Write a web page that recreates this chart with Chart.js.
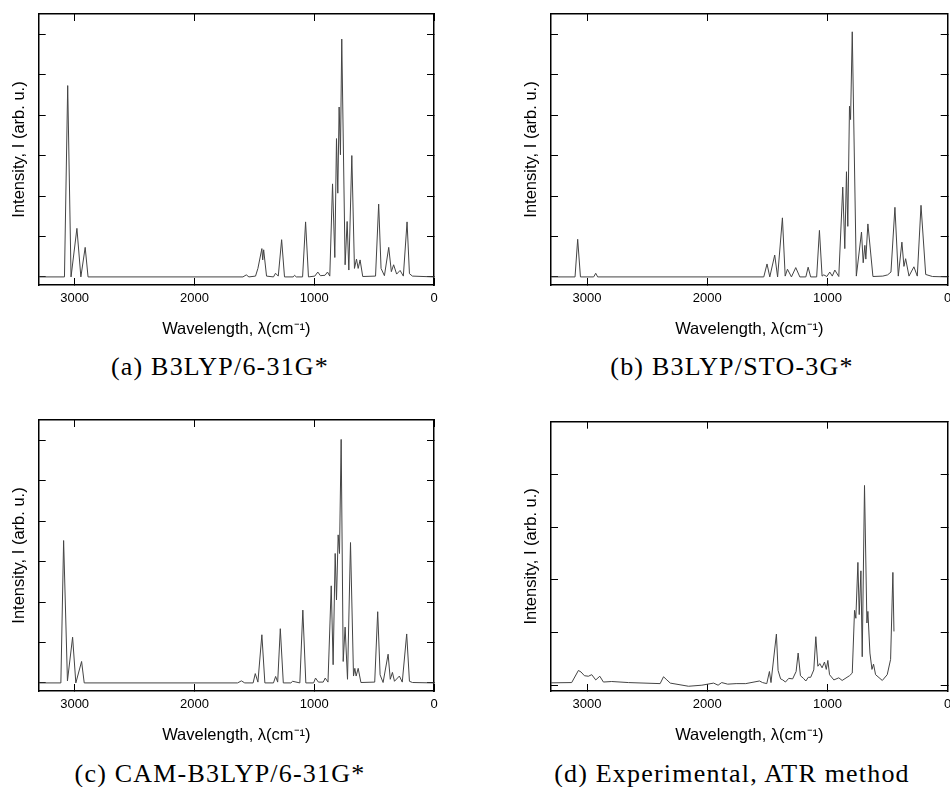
<!DOCTYPE html>
<html>
<head>
<meta charset="utf-8">
<script src="https://cdn.jsdelivr.net/npm/chart.js@4.4.1/dist/chart.umd.min.js"></script>
<style>
  html, body { margin: 0; padding: 0; background: #fff; width: 950px; height: 787px; overflow: hidden; }
  .panel { position: absolute; }
  .caption { position: absolute; width: 440px; text-align: center; font-family: "Liberation Serif", "DejaVu Serif", serif; font-size: 26px; letter-spacing: 1.2px; color: #000; line-height: 28px; }
</style>
</head>
<body>
<canvas id="chart-a" class="panel" width="475" height="345" style="left:0px;top:0px"></canvas>
<canvas id="chart-b" class="panel" width="475" height="345" style="left:512px;top:0px"></canvas>
<canvas id="chart-c" class="panel" width="475" height="345" style="left:0px;top:406px"></canvas>
<canvas id="chart-d" class="panel" width="475" height="345" style="left:512px;top:406px"></canvas>
<div class="caption" style="left:0px;top:353px">(a) B3LYP/6-31G*</div>
<div class="caption" style="left:512px;top:353px">(b) B3LYP/STO-3G*</div>
<div class="caption" style="left:0px;top:760px">(c) CAM-B3LYP/6-31G*</div>
<div class="caption" style="left:512px;top:760px">(d) Experimental, ATR method</div>
<script>
// wavenumbers (cm-1) and intensities (arb. u.)

// (a) B3LYP/6-31G*
const waveA = [3300, 3085, 3058, 3030, 2981, 2948, 2912, 2888,
    1595, 1567, 1545, 1490, 1470, 1437, 1430, 1422, 1398, 1340,
    1323, 1300, 1272, 1248, 1175, 1164, 1150, 1097, 1072, 1048,
    995, 970, 948, 910, 889, 870, 847, 828, 814, 803,
    792, 781, 770, 742, 725, 711, 686, 664, 647, 633,
    617, 595, 488, 462, 442, 414, 378, 356, 337, 312,
    283, 256, 225, 205, 180, 0];
const intA = [0, 0, 4.73, 0, 1.20, 0, 0.73, 0,
    0, 0.05, 0, 0.02, 0.21, 0.70, 0.42, 0.67, 0.02, 0,
    0.09, 0.02, 0.92, 0, 0, 0.04, 0, 0, 1.36, 0,
    0.02, 0.12, 0.03, 0.04, 0.12, 0.02, 2.30, 0.48, 3.42, 2.07,
    4.20, 3.02, 5.88, 0.30, 1.37, 0.17, 3.00, 0.21, 0.44, 0.21,
    0.42, 0.01, 0.02, 1.80, 0.21, 0.03, 0.73, 0.13, 0.30, 0.07,
    0.16, 0.02, 1.36, 0.08, 0.02, 0];

// (b) B3LYP/STO-3G*
const waveB = [3300, 3100, 3078, 3055, 2945, 2928, 2912, 1530,
    1503, 1480, 1439, 1415, 1375, 1352, 1333, 1300, 1264, 1230,
    1180, 1161, 1140, 1090, 1067, 1045, 1031, 1005, 981, 960,
    939, 906, 873, 856, 842, 831, 817, 808, 794, 760,
    717, 703, 689, 681, 664, 622, 540, 500, 472, 439,
    411, 381, 364, 350, 322, 281, 253, 222, 183, 127, 0];
const intB = [0, 0, 0.93, 0, 0, 0.09, 0, 0,
    0.32, 0, 0.54, 0, 1.46, 0.02, 0.19, 0, 0.23, 0,
    0, 0.24, 0, 0, 1.15, 0.02, 0.05, 0.01, 0.12, 0.02,
    0.17, 0.01, 2.22, 0.70, 2.60, 1.25, 4.22, 3.89, 6.06, 0.02,
    1.11, 0.35, 0.78, 0.44, 1.31, 0.01, 0.02, 0.05, 0.12, 1.72,
    0.02, 0.86, 0.26, 0.45, 0.02, 0.25, 0.02, 1.77, 0.06, 0.01, 0];

// (c) CAM-B3LYP/6-31G*
const waveC = [3300, 3115, 3092, 3060, 3017, 2990, 2942, 2920, 1640, 1608, 1580,
    1510, 1492, 1470, 1437, 1412, 1340, 1322, 1305, 1283, 1258,
    1195, 1180, 1120, 1095, 1070, 1005, 989, 965, 925, 908, 885,
    858, 842, 825, 814, 800, 789, 775, 758, 742, 722,
    697, 672, 661, 650, 633, 610, 495, 470, 450, 425,
    383, 365, 347, 330, 289, 265, 228, 205, 180, 0];
const intC = [0, 0, 3.52, 0.05, 1.13, 0, 0.53, 0, 0, 0.05, 0,
    0, 0.23, 0.02, 1.19, 0, 0, 0.16, 0.02, 1.34, 0,
    0, 0.04, 0, 1.80, 0, 0, 0.12, 0.02, 0.02, 0.12, 0.02,
    2.40, 0.45, 3.20, 2.05, 3.66, 3.20, 6.02, 0.53, 1.38, 0.09,
    3.47, 0.17, 0.36, 0.17, 0.36, 0.01, 0.02, 1.76, 0.20, 0.01,
    0.71, 0.09, 0.26, 0.04, 0.17, 0.02, 1.21, 0.04, 0.01, 0];

// (d) Experimental, ATR method
const waveD = [3300, 3128, 3072, 3050, 3022, 2989, 2961, 2928, 2894, 2864, 2795, 2656,
    2392, 2364, 2336, 2308, 2156, 2045, 1947, 1910, 1880, 1830, 1760, 1680, 1566, 1540, 1505,
    1483, 1470, 1425, 1411, 1390, 1372, 1350, 1322, 1290, 1261, 1244, 1225, 1200, 1180, 1160, 1140,
    1114, 1097, 1080, 1064, 1045, 1025, 1010, 997, 983, 947, 906, 878, 817, 794,
    775, 764, 747, 736, 722, 711, 692, 672, 664, 647, 630, 617, 600, 544, 503, 475, 456, 447];
const intD = [0.045, 0.05, 0.28, 0.25, 0.18, 0.17, 0.20, 0.10, 0.17, 0.06, 0.07, 0.05,
    0.03, 0.16, 0.10, 0.04, -0.02, 0.00, 0.04, 0.00, 0.05, 0.02, 0.03, 0.03, 0.08, 0.05, 0.03,
    0.26, 0.05, 0.97, 0.28, 0.12, 0.10, 0.06, 0.13, 0.12, 0.26, 0.61, 0.18, 0.13, 0.08, 0.15, 0.15,
    0.29, 0.92, 0.36, 0.41, 0.33, 0.44, 0.30, 0.47, 0.20, 0.10, 0.14, 0.09, 0.18, 0.23,
    1.42, 1.27, 2.33, 1.34, 2.17, 0.54, 3.79, 1.18, 1.40, 0.61, 0.30, 0.40, 0.20, 0.09, 0.20, 0.49, 2.14, 1.02];

// tick positions
const xTickValues = [3000, 2000, 1000, 0];
const yTicksCalc = [0, 1, 2, 3, 4, 5, 6];
const yTicksExp = [0, 1, 2, 3, 4, 5];

const sansFont = "'Liberation Sans', Arial, sans-serif";
const xTitle = 'Wavelength, \u03bb(cm\u207b\u00b9)';
const yTitle = 'Intensity, I (arb. u.)';

function toPoints(waves, ints) {
    const pts = [];
    for (let i = 0; i < waves.length; i++) {
        pts.push({ x: waves[i], y: ints[i] });
    }
    return pts;
}

function fixedTicks(values) {
    return function (scale) {
        scale.ticks = values.map(v => ({ value: v }));
    };
}

const tickGrid = { drawOnChartArea: false, drawTicks: true, tickLength: -7, color: '#000', lineWidth: 1 };
const boxBorder = { display: true, color: '#000', width: 1.5 };

function makeChart(id, waves, ints, yMin, yMax, yTicks, yLeft, padTop, padRight) {
    const ctx = document.getElementById(id);
    return new Chart(ctx, {
        type: 'line',
        data: {
            datasets: [{
                data: toPoints(waves, ints),
                borderColor: '#444',
                borderWidth: 1,
                pointRadius: 0,
                tension: 0,
                fill: false
            }]
        },
        options: {
            responsive: false,
            animation: false,
            devicePixelRatio: 1,
            layout: { padding: { left: 0, top: padTop, right: padRight, bottom: 0 } },
            plugins: { legend: { display: false }, tooltip: { enabled: false } },
            scales: {
                x: {
                    type: 'linear', position: 'bottom', min: 0, max: 3300, reverse: true,
                    afterBuildTicks: fixedTicks(xTickValues),
                    ticks: { color: '#000', padding: 13, maxRotation: 0, autoSkip: false,
                        font: { family: sansFont, size: 13 },
                        callback: v => String(v) },
                    grid: tickGrid, border: boxBorder,
                    title: { display: true, text: xTitle, color: '#000',
                        font: { family: sansFont, size: 16.5 }, padding: { top: 0, bottom: 6 } },
                    afterFit: s => { s.height = 60; }
                },
                x2: {
                    type: 'linear', position: 'top', min: 0, max: 3300, reverse: true,
                    afterBuildTicks: fixedTicks(xTickValues),
                    ticks: { display: false },
                    grid: tickGrid, border: boxBorder,
                    afterFit: s => { s.height = 0; }
                },
                y: {
                    type: 'linear', position: 'left', min: yMin, max: yMax,
                    afterBuildTicks: fixedTicks(yTicks),
                    ticks: { display: false },
                    grid: tickGrid, border: boxBorder,
                    title: { display: true, text: yTitle, color: '#000',
                        font: { family: sansFont, size: 16.5 }, padding: { top: 10, bottom: 0 } },
                    afterFit: s => { s.width = yLeft; }
                },
                y2: {
                    type: 'linear', position: 'right', min: yMin, max: yMax,
                    afterBuildTicks: fixedTicks(yTicks),
                    ticks: { display: false },
                    grid: tickGrid, border: boxBorder,
                    afterFit: s => { s.width = 0; }
                }
            }
        }
    });
}

makeChart('chart-a', waveA, intA, -0.2, 6.5, yTicksCalc, 38.7, 14, 41);
makeChart('chart-b', waveB, intB, -0.2, 6.5, yTicksCalc, 39, 14, 39.3);
makeChart('chart-c', waveC, intC, -0.2, 6.5, yTicksCalc, 38.7, 14, 41);
makeChart('chart-d', waveD, intD, -0.11, 5, yTicksExp, 39, 15.7, 39.3);
</script>
</body>
</html>
